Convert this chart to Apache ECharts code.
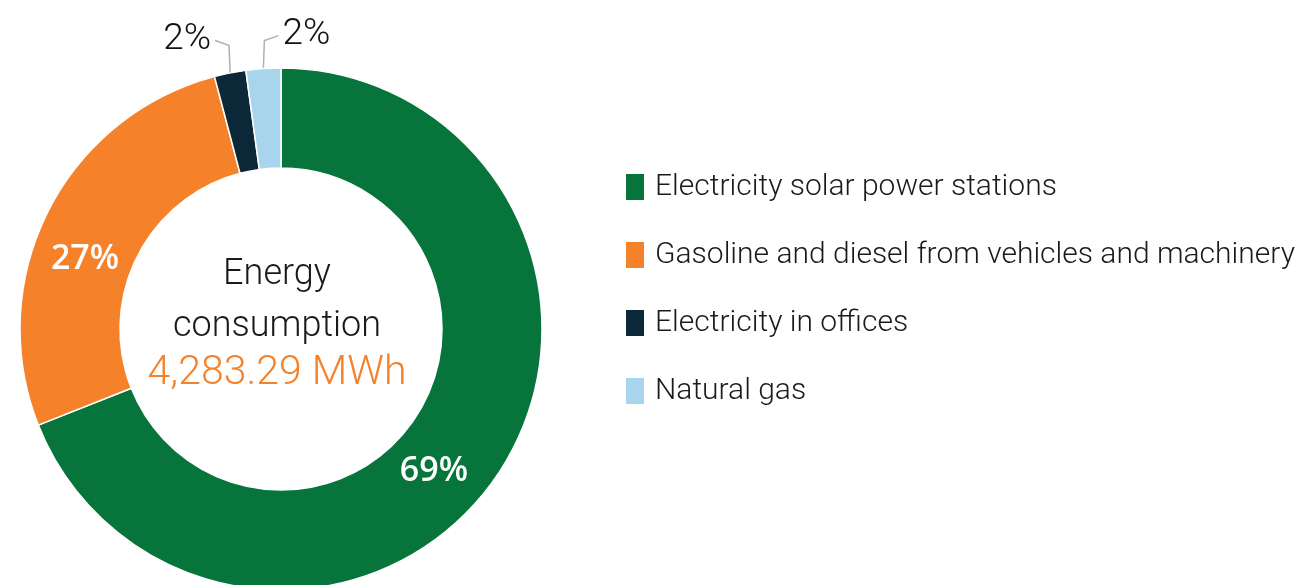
<!DOCTYPE html>
<html>
<head>
<meta charset="utf-8">
<script src="https://cdn.jsdelivr.net/npm/echarts@6/dist/echarts.min.js"></script>
<style>
html,body{margin:0;padding:0;background:#fff;}
#chart{width:1308px;height:585px;}
</style>
</head>
<body>
<div id="chart"></div>
<script>
// ---- data ----
const categories = [
  'Electricity solar power stations',
  'Gasoline and diesel from vehicles and machinery',
  'Electricity in offices',
  'Natural gas'
];
const valuesMWh = [2955.5, 1152.2, 83.5, 92.1];
const totalLabel = '4,283.29 MWh';
const centerTitle = 'Energy\nconsumption';

// ---- styles ----
const colors = ['#06743b', '#f5822a', '#0b2838', '#a8d4ec'];
const insideLabel = {
  show: true, position: 'inside', color: '#ffffff',
  fontFamily: 'Open Sans', fontWeight: 600, fontSize: 34,
  formatter: p => Math.round(p.percent) + '%'
};
const outsideLabel = {
  show: true, position: 'outside', color: '#111111',
  fontFamily: 'Roboto', fontWeight: 300, fontSize: 37,
  formatter: p => Math.round(p.percent) + '%'
};
const labelStyles = [insideLabel, insideLabel, outsideLabel, outsideLabel];
const lineShow = [false, false, true, true];
// label nudges (inside labels) / leader side (outside labels)
const labelShift = [[-24, 22], [-5, 27]];
const outsideSide = {2: -1, 3: 1};

const seriesData = categories.map((name, i) => ({
  name: name,
  value: valuesMWh[i],
  itemStyle: {color: colors[i]},
  label: labelStyles[i],
  labelLine: {show: lineShow[i], length: 28, length2: 14, smooth: false,
    lineStyle: {color: '#b0b0b0', width: 1.5}}
}));

const chart = echarts.init(document.getElementById('chart'), null, {renderer: 'canvas'});
chart.setOption({
  animation: false,
  backgroundColor: '#ffffff',
  legend: {
    orient: 'vertical',
    left: 624,
    top: 172,
    padding: 0,
    icon: 'rect',
    itemWidth: 20,
    itemHeight: 28,
    itemGap: 38,
    data: categories,
    selectedMode: false,
    textStyle: {
      fontFamily: 'Roboto', fontWeight: 300, fontSize: 30, color: '#1a1a1a',
      padding: [0, 0, 0, 5]
    }
  },
  title: [
    {
      text: centerTitle,
      left: 272, top: 244,
      textAlign: 'center',
      textStyle: {fontFamily: 'Roboto', fontWeight: 300, fontSize: 36, color: '#1a1a1a', lineHeight: 52}
    },
    {
      text: totalLabel,
      left: 272, top: 348,
      textAlign: 'center',
      textStyle: {fontFamily: 'Roboto', fontWeight: 300, fontSize: 41, color: '#f5822a'}
    }
  ],
  series: [{
    type: 'pie',
    center: [281, 329],
    radius: [161, 261],
    startAngle: 90,
    clockwise: true,
    avoidLabelOverlap: false,
    itemStyle: {borderColor: '#ffffff', borderWidth: 1.5},
    emphasis: {disabled: true},
    labelLayout: function (params) {
      const i = params.dataIndex;
      if (i < 2) {
        return {dx: labelShift[i][0], dy: labelShift[i][1]};
      }
      const pts = params.labelLinePoints;
      if (!pts) return {};
      const side = outsideSide[i];
      const p0 = pts[0];
      const p1 = [p0[0] + side * 1, pts[1][1]];
      const p2 = [p1[0] + side * 14, p1[1] - 5];
      return {
        x: p2[0] + side * 4,
        y: p2[1] - 1,
        align: side < 0 ? 'right' : 'left',
        verticalAlign: 'middle',
        labelLinePoints: [p0, p1, p2]
      };
    },
    data: seriesData
  }]
});
</script>
</body>
</html>
